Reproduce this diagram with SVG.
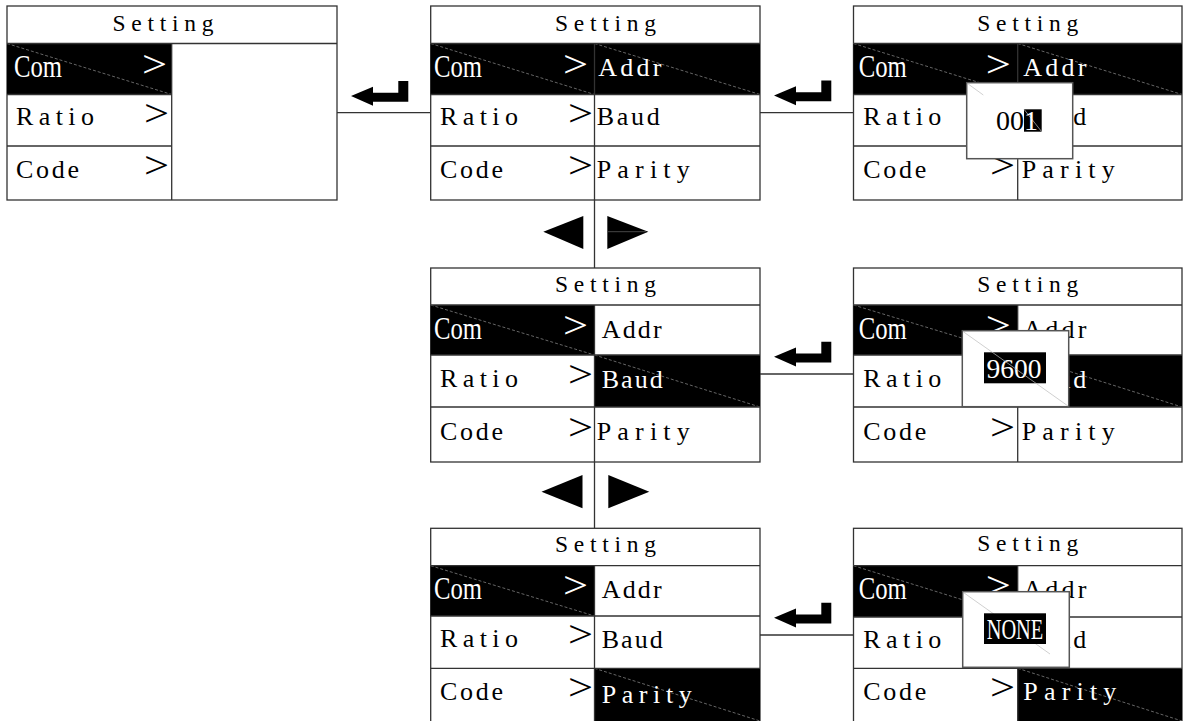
<svg xmlns="http://www.w3.org/2000/svg" width="1183" height="721" viewBox="0 0 1183 721">
<style>
.frame{fill:#fff;stroke:#333;stroke-width:1.3}
.ln{stroke:#333;stroke-width:1.3;fill:none}
.hl{fill:#000}
.dg{stroke:#aaa;stroke-width:0.6;stroke-dasharray:3 2;fill:none}
.pd{stroke:#bbb;stroke-width:0.7;fill:none}
.pop{fill:#fff;stroke:#555;stroke-width:1.5}
.t{font-family:"Liberation Serif",serif;font-size:26px;fill:#000}
.hd{font-family:"Liberation Serif",serif;font-size:23.5px;fill:#000}
.cm{font-family:"Liberation Serif",serif;font-size:32px;fill:#fff}
.gt{font-family:"Liberation Serif",serif;font-size:38px;fill:#000}
.num{font-family:"Liberation Serif",serif;font-size:28px;fill:#000}
.conn{stroke:#333;stroke-width:1.3;fill:none}
.icon{fill:#000}
.w{fill:#fff}
</style>
<defs>
<path id="enter" class="icon" d="M0,15 L22,5.7 L22,11.7 L47.3,11.7 L47.3,0 L57.3,0 L57.3,20.7 L22,20.7 L22,24.7 Z"/>
</defs>

<g id="connectors">
<line class="conn" x1="337" y1="112.7" x2="430.7" y2="112.7"/>
<line class="conn" x1="760" y1="112.7" x2="853.5" y2="112.7"/>
<line class="conn" x1="760" y1="374" x2="853.5" y2="374"/>
<line class="conn" x1="760" y1="635" x2="853.5" y2="635"/>
<line class="conn" x1="594.5" y1="200" x2="594.5" y2="268"/>
<line class="conn" x1="594.5" y1="462" x2="594.5" y2="528.3"/>
<use href="#enter" x="351" y="81"/>
<use href="#enter" x="774" y="80.5"/>
<use href="#enter" x="774" y="341.7"/>
<use href="#enter" x="774" y="602.7"/>
<polygon class="icon" points="543.3,231.7 583.3,216 583.3,249"/>
<polygon class="icon" points="607.3,216 648.3,231.7 607.3,249"/>
<line x1="608" y1="231.7" x2="646" y2="231.7" stroke="#777" stroke-width="0.6"/>
<polygon class="icon" points="541.5,491.7 582.5,475 582.5,508.3"/>
<polygon class="icon" points="608.3,475 649.3,491.7 608.3,508.3"/>
</g>

<g id="panel1">
<rect class="frame" x="7" y="6" width="330" height="194"/>
<rect class="hl" x="7" y="43.5" width="164.7" height="51"/>
<line class="dg" x1="7" y1="43.5" x2="171.7" y2="94.5"/>
<line class="ln" x1="7" y1="43.5" x2="337" y2="43.5"/>
<line class="ln" x1="7" y1="94.5" x2="171.7" y2="94.5"/>
<line class="ln" x1="7" y1="146" x2="171.7" y2="146"/>
<line class="ln" x1="171.7" y1="43.5" x2="171.7" y2="200"/>
<text class="hd" x="112.5" y="31" textLength="101" lengthAdjust="spacing">Setting</text>
<text class="cm" x="14" y="76.5" textLength="48" lengthAdjust="spacingAndGlyphs">Com</text>
<text class="gt w" x="142" y="76.5" textLength="25" lengthAdjust="spacingAndGlyphs">&gt;</text>
<text class="t" x="16" y="125" textLength="78" lengthAdjust="spacing">Ratio</text>
<text class="gt" x="144" y="125.5" textLength="25" lengthAdjust="spacingAndGlyphs">&gt;</text>
<text class="t" x="16" y="178" textLength="63" lengthAdjust="spacing">Code</text>
<text class="gt" x="144" y="178" textLength="25" lengthAdjust="spacingAndGlyphs">&gt;</text>
</g>

<g id="panel2">
<rect class="frame" x="430.7" y="6" width="329.3" height="194"/>
<rect class="hl" x="430.7" y="43.5" width="329.3" height="51"/>
<line class="dg" x1="430.7" y1="43.5" x2="594.5" y2="94.5"/>
<line class="dg" x1="594.5" y1="43.5" x2="760" y2="94.5"/>
<line class="ln" x1="430.7" y1="43.5" x2="760" y2="43.5"/>
<line class="ln" x1="430.7" y1="94.5" x2="760" y2="94.5"/>
<line class="ln" x1="430.7" y1="146" x2="760" y2="146"/>
<line class="ln" x1="594.5" y1="43.5" x2="594.5" y2="200"/>
<text class="hd" x="555" y="31" textLength="101" lengthAdjust="spacing">Setting</text>
<text class="cm" x="434" y="76.5" textLength="48" lengthAdjust="spacingAndGlyphs">Com</text>
<text class="gt w" x="563" y="76.5" textLength="25" lengthAdjust="spacingAndGlyphs">&gt;</text>
<text class="t w" x="598.3" y="76" textLength="63" lengthAdjust="spacing">Addr</text>
<text class="t" x="440" y="125" textLength="78" lengthAdjust="spacing">Ratio</text>
<text class="gt" x="568" y="125.5" textLength="25" lengthAdjust="spacingAndGlyphs">&gt;</text>
<text class="t" x="596.7" y="125" textLength="63" lengthAdjust="spacing">Baud</text>
<text class="t" x="440" y="178" textLength="63" lengthAdjust="spacing">Code</text>
<text class="gt" x="568" y="178" textLength="25" lengthAdjust="spacingAndGlyphs">&gt;</text>
<text class="t" x="596.7" y="178" textLength="93" lengthAdjust="spacing">Parity</text>
</g>

<g id="panel3">
<rect class="frame" x="853.5" y="6" width="328.5" height="194"/>
<rect class="hl" x="853.5" y="43.5" width="328.5" height="51"/>
<line class="dg" x1="853.5" y1="43.5" x2="1017.7" y2="94.5"/>
<line class="dg" x1="1017.7" y1="43.5" x2="1182" y2="94.5"/>
<line class="ln" x1="853.5" y1="43.5" x2="1182" y2="43.5"/>
<line class="ln" x1="853.5" y1="94.5" x2="1182" y2="94.5"/>
<line class="ln" x1="853.5" y1="146" x2="1182" y2="146"/>
<line class="ln" x1="1017.7" y1="43.5" x2="1017.7" y2="200"/>
<text class="hd" x="977.3" y="31" textLength="101" lengthAdjust="spacing">Setting</text>
<text class="cm" x="858.7" y="76.5" textLength="48" lengthAdjust="spacingAndGlyphs">Com</text>
<text class="gt w" x="985.7" y="76.5" textLength="25" lengthAdjust="spacingAndGlyphs">&gt;</text>
<text class="t w" x="1023.3" y="76" textLength="63" lengthAdjust="spacing">Addr</text>
<text class="t" x="863.3" y="125" textLength="78" lengthAdjust="spacing">Ratio</text>
<text class="t" x="1023.3" y="125" textLength="63" lengthAdjust="spacing">Baud</text>
<text class="t" x="863.3" y="178" textLength="63" lengthAdjust="spacing">Code</text>
<text class="gt" x="990" y="178" textLength="25" lengthAdjust="spacingAndGlyphs">&gt;</text>
<text class="t" x="1021.7" y="178" textLength="93" lengthAdjust="spacing">Parity</text>
<g id="popup-addr">
<rect class="pop" x="966.7" y="82.7" width="106" height="76"/>
<line class="pd" x1="967.5" y1="83.5" x2="983.3" y2="95"/>
<rect class="hl" x="1024" y="109.3" width="17.7" height="22.4"/>
<line class="pd" x1="1024" y1="109.3" x2="1041.7" y2="131.7"/>
<text class="num" x="996" y="130">00<tspan fill="#fff">1</tspan></text>
</g>
</g>

<g id="panel4">
<rect class="frame" x="430.7" y="268" width="329.3" height="194"/>
<rect class="hl" x="430.7" y="305" width="163.8" height="50"/>
<rect class="hl" x="594.5" y="355" width="165.5" height="52"/>
<line class="dg" x1="430.7" y1="305" x2="594.5" y2="355"/>
<line class="dg" x1="594.5" y1="355" x2="760" y2="407"/>
<line class="ln" x1="430.7" y1="305" x2="760" y2="305"/>
<line class="ln" x1="430.7" y1="355" x2="760" y2="355"/>
<line class="ln" x1="430.7" y1="407" x2="760" y2="407"/>
<line class="ln" x1="594.5" y1="305" x2="594.5" y2="462"/>
<text class="hd" x="555" y="292" textLength="101" lengthAdjust="spacing">Setting</text>
<text class="cm" x="434" y="338.5" textLength="48" lengthAdjust="spacingAndGlyphs">Com</text>
<text class="gt w" x="563" y="338" textLength="25" lengthAdjust="spacingAndGlyphs">&gt;</text>
<text class="t" x="601.7" y="338" textLength="60" lengthAdjust="spacing">Addr</text>
<text class="t" x="440" y="387" textLength="78" lengthAdjust="spacing">Ratio</text>
<text class="gt" x="568" y="387" textLength="25" lengthAdjust="spacingAndGlyphs">&gt;</text>
<text class="t w" x="601.7" y="388" textLength="61" lengthAdjust="spacing">Baud</text>
<text class="t" x="440" y="440" textLength="63" lengthAdjust="spacing">Code</text>
<text class="gt" x="568" y="440" textLength="25" lengthAdjust="spacingAndGlyphs">&gt;</text>
<text class="t" x="596.7" y="440" textLength="93" lengthAdjust="spacing">Parity</text>
</g>

<g id="panel5">
<rect class="frame" x="853.5" y="268" width="328.5" height="194"/>
<rect class="hl" x="853.5" y="305" width="164.2" height="50"/>
<rect class="hl" x="1017.7" y="355" width="164.3" height="52"/>
<line class="dg" x1="853.5" y1="305" x2="1017.7" y2="355"/>
<line class="dg" x1="1017.7" y1="355" x2="1182" y2="407"/>
<line class="ln" x1="853.5" y1="305" x2="1182" y2="305"/>
<line class="ln" x1="853.5" y1="355" x2="1182" y2="355"/>
<line class="ln" x1="853.5" y1="407" x2="1182" y2="407"/>
<line class="ln" x1="1017.7" y1="305" x2="1017.7" y2="462"/>
<text class="hd" x="977.3" y="292" textLength="101" lengthAdjust="spacing">Setting</text>
<text class="cm" x="858.7" y="338.5" textLength="48" lengthAdjust="spacingAndGlyphs">Com</text>
<text class="gt w" x="985.7" y="338" textLength="25" lengthAdjust="spacingAndGlyphs">&gt;</text>
<text class="t" x="1023.3" y="338" textLength="63" lengthAdjust="spacing">Addr</text>
<text class="t" x="863.3" y="387" textLength="78" lengthAdjust="spacing">Ratio</text>
<text class="t w" x="1023.3" y="388" textLength="63" lengthAdjust="spacing">Baud</text>
<text class="t" x="863.3" y="440" textLength="63" lengthAdjust="spacing">Code</text>
<text class="gt" x="990" y="440" textLength="25" lengthAdjust="spacingAndGlyphs">&gt;</text>
<text class="t" x="1021.7" y="440" textLength="93" lengthAdjust="spacing">Parity</text>
<g id="popup-baud">
<rect class="pop" x="962.3" y="330.7" width="106.4" height="76"/>
<rect class="hl" x="984" y="352.3" width="62" height="31"/>
<text class="num" x="986.5" y="377.7" style="fill:#fff" textLength="55" lengthAdjust="spacingAndGlyphs">9600</text>
<line class="pd" x1="963" y1="331.5" x2="1068" y2="406"/>
</g>
</g>

<g id="panel6">
<rect class="frame" x="430.7" y="528.3" width="329.3" height="200"/>
<rect class="hl" x="430.7" y="565.7" width="163.8" height="50.3"/>
<rect class="hl" x="594.5" y="668.3" width="165.5" height="60"/>
<line class="dg" x1="430.7" y1="565.7" x2="594.5" y2="616"/>
<line class="dg" x1="594.5" y1="668.3" x2="760" y2="721"/>
<line class="ln" x1="430.7" y1="565.7" x2="760" y2="565.7"/>
<line class="ln" x1="430.7" y1="616" x2="760" y2="616"/>
<line class="ln" x1="430.7" y1="668.3" x2="760" y2="668.3"/>
<line class="ln" x1="594.5" y1="565.7" x2="594.5" y2="728"/>
<text class="hd" x="555" y="552" textLength="101" lengthAdjust="spacing">Setting</text>
<text class="cm" x="434" y="598.5" textLength="48" lengthAdjust="spacingAndGlyphs">Com</text>
<text class="gt w" x="563" y="598" textLength="25" lengthAdjust="spacingAndGlyphs">&gt;</text>
<text class="t" x="601.7" y="598" textLength="60" lengthAdjust="spacing">Addr</text>
<text class="t" x="440" y="647" textLength="78" lengthAdjust="spacing">Ratio</text>
<text class="gt" x="568" y="647" textLength="25" lengthAdjust="spacingAndGlyphs">&gt;</text>
<text class="t" x="601.7" y="648" textLength="61" lengthAdjust="spacing">Baud</text>
<text class="t" x="440" y="700" textLength="63" lengthAdjust="spacing">Code</text>
<text class="gt" x="568" y="700" textLength="25" lengthAdjust="spacingAndGlyphs">&gt;</text>
<text class="t w" x="601.7" y="703" textLength="90" lengthAdjust="spacing">Parity</text>
</g>

<g id="panel7">
<rect class="frame" x="853.5" y="528.3" width="328.5" height="200"/>
<rect class="hl" x="853.5" y="565.7" width="164.2" height="51.3"/>
<rect class="hl" x="1017.7" y="668.3" width="164.3" height="60"/>
<line class="dg" x1="853.5" y1="565.7" x2="1017.7" y2="617"/>
<line class="dg" x1="1017.7" y1="668.3" x2="1182" y2="721"/>
<line class="ln" x1="853.5" y1="565.7" x2="1182" y2="565.7"/>
<line class="ln" x1="853.5" y1="617" x2="1182" y2="617"/>
<line class="ln" x1="853.5" y1="668.3" x2="1182" y2="668.3"/>
<line class="ln" x1="1017.7" y1="565.7" x2="1017.7" y2="728"/>
<text class="hd" x="977.3" y="550.5" textLength="101" lengthAdjust="spacing">Setting</text>
<text class="cm" x="858.7" y="598.5" textLength="48" lengthAdjust="spacingAndGlyphs">Com</text>
<text class="gt w" x="985.7" y="598" textLength="25" lengthAdjust="spacingAndGlyphs">&gt;</text>
<text class="t" x="1023.3" y="598" textLength="63" lengthAdjust="spacing">Addr</text>
<text class="t" x="863.3" y="648" textLength="78" lengthAdjust="spacing">Ratio</text>
<text class="t" x="1023.3" y="648" textLength="63" lengthAdjust="spacing">Baud</text>
<text class="t" x="863.3" y="700" textLength="63" lengthAdjust="spacing">Code</text>
<text class="gt" x="990" y="700" textLength="25" lengthAdjust="spacingAndGlyphs">&gt;</text>
<text class="t w" x="1023.3" y="700" textLength="93" lengthAdjust="spacing">Parity</text>
<g id="popup-parity">
<rect class="pop" x="962.7" y="591.7" width="106.6" height="75.6"/>
<line class="pd" x1="963.5" y1="592.5" x2="1050" y2="654"/>
<rect class="hl" x="984" y="613.3" width="62" height="30.7"/>
<text class="cm" x="986.7" y="639.3" style="font-size:30px" textLength="56.6" lengthAdjust="spacingAndGlyphs">NONE</text>
</g>
</g>
</svg>
